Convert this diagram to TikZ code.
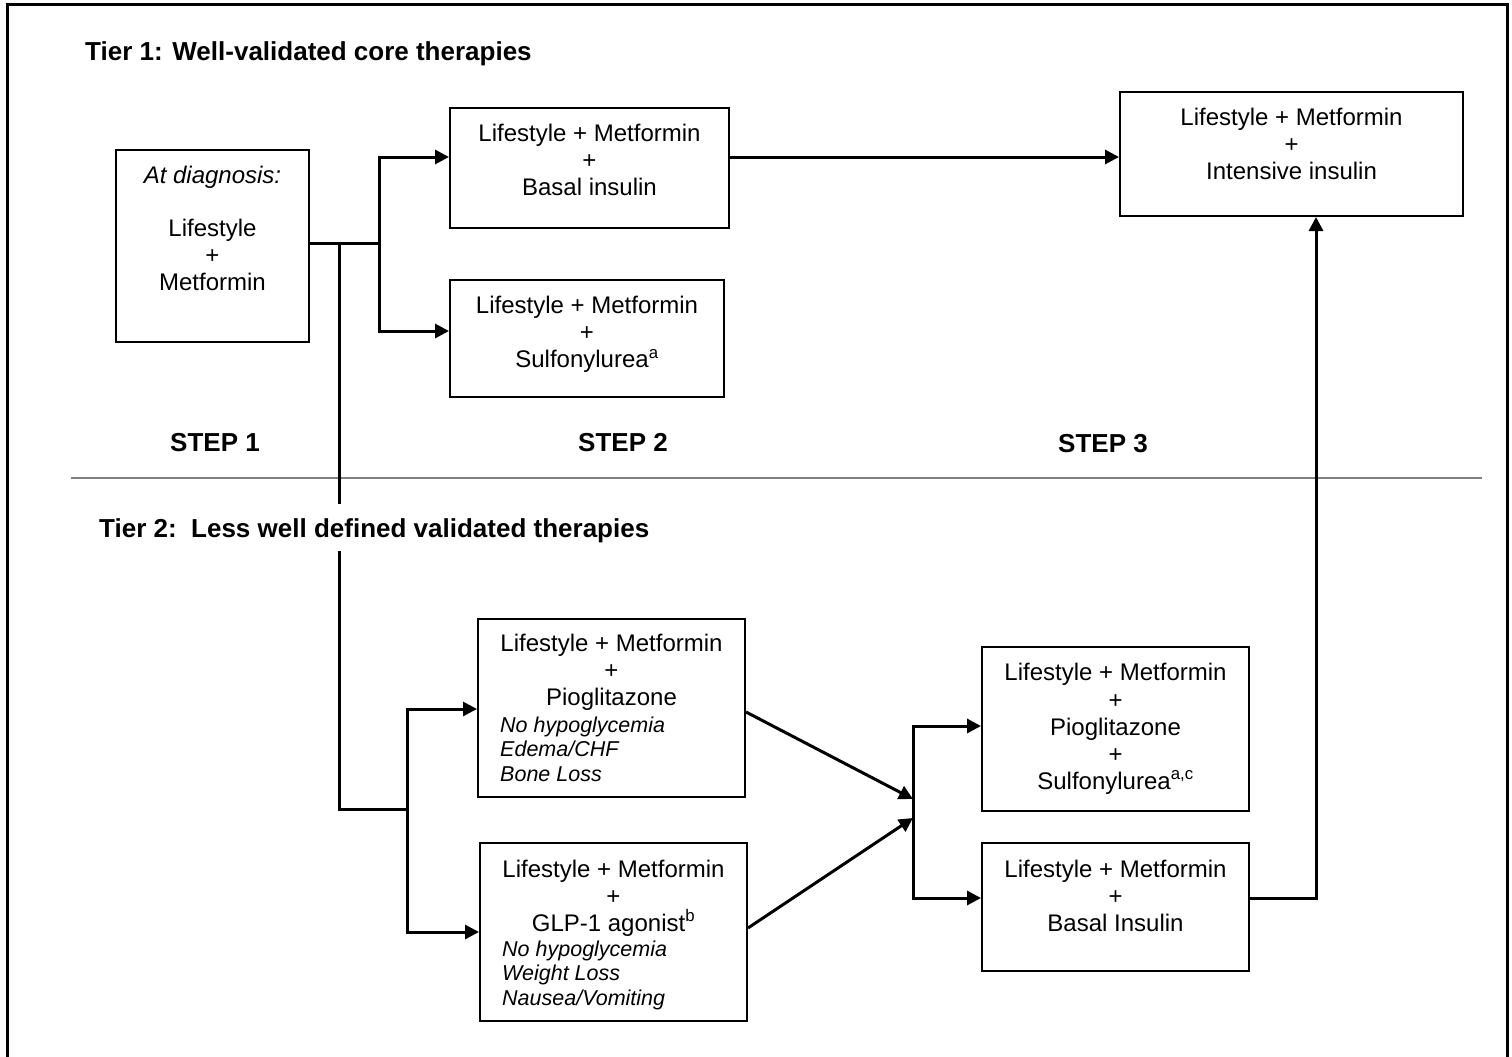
\documentclass[tikz,border=0pt]{standalone}
\usepackage{fontspec}
\setmainfont{Liberation Sans}
\usetikzlibrary{arrows.meta,calc}
\begin{document}
\begin{tikzpicture}[x=1pt,y=-1pt,
  box/.style={draw, line width=2pt, inner sep=0pt},
  conn/.style={line width=3pt, line cap=rect},
  arr/.style={line width=3pt, -{Triangle[length=14pt,width=14pt]}},
  main/.style={font=\fontsize{24}{27}\selectfont, align=center, inner sep=0pt, anchor=north},
  note/.style={font=\fontsize{21.5}{24.5}\selectfont\itshape, align=left, inner sep=0pt, anchor=north west},
  head/.style={font=\fontsize{26}{30}\selectfont\bfseries, inner sep=0pt},
]
\useasboundingbox (0,0) rectangle (1512,1057);
% frame
\draw[line width=3pt] (7,1057) -- (7,5) -- (1507,5) -- (1507,1057);

% boxes
\node[box, minimum width=193pt, minimum height=192pt] (A) at (212.5,246) {};
\node[box, minimum width=279pt, minimum height=120pt] (B) at (589.5,168) {};
\node[box, minimum width=274pt, minimum height=117pt] (C) at (587,338.5) {};
\node[box, minimum width=343pt, minimum height=124pt] (D) at (1291.5,154) {};
\node[box, minimum width=267pt, minimum height=178pt] (E) at (611.5,708) {};
\node[box, minimum width=267pt, minimum height=178pt] (F) at (613.5,932) {};
\node[box, minimum width=267pt, minimum height=164pt] (G) at (1115.5,729) {};
\node[box, minimum width=267pt, minimum height=128pt] (H) at (1115.5,907) {};

% box texts
\node[main] (At) at (212.5,166.4) {\textit{At diagnosis:}\\[26pt]Lifestyle\\+\\Metformin};
\node[main] (Bt) at (589.5,124.4) {Lifestyle + Metformin\\+\\Basal insulin};
\node[main] (Ct) at (587,296.4) {Lifestyle + Metformin\\+\\Sulfonylurea\textsuperscript{a}};
\node[main] (Dt) at (1291.5,108.4) {Lifestyle + Metformin\\+\\Intensive insulin};
\node[main] (Et) at (611.5,634.4) {Lifestyle + Metformin\\+\\Pioglitazone};
\node[note] (En) at (500,716.3) {No hypoglycemia\\Edema/CHF\\Bone Loss};
\node[main] (Ft) at (613.5,859.4) {Lifestyle + Metformin\\+\\GLP-1 agonist\textsuperscript{b}};
\node[note] (Fn) at (502,940.3) {No hypoglycemia\\Weight Loss\\Nausea/Vomiting};
\node[main] (Gt) at (1115.5,663.4) {Lifestyle + Metformin\\+\\Pioglitazone\\+\\Sulfonylurea\textsuperscript{a,c}};
\node[main] (Ht) at (1115.5,859.4) {Lifestyle + Metformin\\+\\Basal Insulin};

% headings
\node[head, anchor=base west] (T1) at (85,60) {Tier 1: Well-validated core therapies};
\node[head, anchor=base] (S1) at (215,451) {STEP 1};
\node[head, anchor=base] (S2) at (623,451) {STEP 2};
\node[head, anchor=base] (S3) at (1103,452) {STEP 3};

% separator
\coordinate (sepL) at (71,478);
\coordinate (sepR) at (1482,478);
\draw[line width=1.2pt, black!50] (sepL) -- (sepR);

% tier 1 connectors
\coordinate (j0) at (379,243);
\coordinate (b1) at (379,157);
\coordinate (b2) at (379,331);
\draw[conn] (A.east |- j0) -- (j0);
\draw[conn] (b1) -- (b2);
\draw[arr] (b1) -- (B.west |- b1);
\draw[arr] (b2) -- (C.west |- b2);
\draw[arr] (B.east |- b1) -- (D.west |- b1);

% trunk to tier 2
\coordinate (t0) at (339,243);
\coordinate (t1) at (339,809);
\coordinate (t2) at (407,809);
\coordinate (e1) at (407,709);
\coordinate (f1) at (407,932);
\draw[conn] (t0) -- (t1) -- (t2);
\draw[conn] (e1) -- (f1);
\draw[arr] (e1) -- (E.west |- e1);
\draw[arr] (f1) -- (F.west |- f1);

% tier 2 heading (covers trunk)
\node[head, anchor=base west, fill=white, inner xsep=0pt, inner ysep=3pt, text height=30pt, text depth=11pt] (T2) at (99,537) {Tier 2:\ \ Less well defined validated therapies};

% merge
\coordinate (m1) at (913,799);
\coordinate (m2) at (913,818);
\coordinate (g1) at (913,726);
\coordinate (h1) at (913,898);
\draw[arr] ($(E.east)+(0,4)$) -- (m1);
\draw[arr] ($(F.east)+(0,-4)$) -- (m2);
\draw[conn] (g1) -- (h1);
\draw[arr] (g1) -- (G.west |- g1);
\draw[arr] (h1) -- (H.west |- h1);

% return to step 3
\coordinate (r1) at (1316,898);
\draw[arr] (H.east |- r1) -- (r1) -- (D.south -| r1);
\end{tikzpicture}
\end{document}
